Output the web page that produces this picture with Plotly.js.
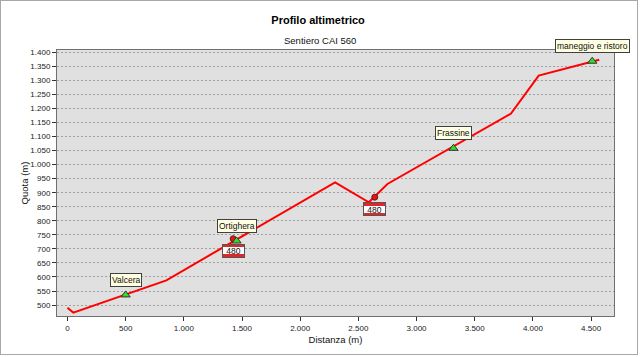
<!DOCTYPE html>
<html>
<head>
<meta charset="utf-8">
<script src="https://cdn.plot.ly/plotly-3.0.1.min.js"></script>
<style>
  html, body { margin: 0; padding: 0; background: #fff; }
  #wrap { position: relative; width: 640px; height: 357px; }
  #chart { position: absolute; left: 0; top: 0; width: 640px; height: 357px; }
  #frame { position: absolute; left: 0; top: 0; width: 636px; height: 353px; border: 1px solid #a8a8a8; pointer-events: none; }
</style>
</head>
<body>
<div id="wrap"><div id="chart"></div><div id="frame"></div></div>
<script>
// Profile (distance in m, elevation in m)
const distance = [0, 50, 850, 2300, 2590, 2750, 3810, 4050, 4570];
const elevation = [490, 473, 588, 937, 866, 931, 1181, 1317, 1373];

// Waypoints
const waypointNames = ['Valcera', 'Ortighera', 'Frassine', 'maneggio e ristoro'];
const waypointDist = [500, 1453, 3317, 4510];
const waypointElev = [536, 728, 1058, 1368];

// Trail junction signs
const signDist = [1424, 2641];
const signElev = [736, 884];
const signText = ['480', '480'];

const FONT = 'Liberation Sans, Arial, sans-serif';

const traces = [
  { x: distance, y: elevation, type: 'scatter', mode: 'lines',
    line: { color: '#ff0000', width: 2 }, hoverinfo: 'skip' },
  { x: signDist, y: signElev, type: 'scatter', mode: 'markers',
    marker: { symbol: 'circle', size: 6, color: '#ee1111', line: { color: '#552222', width: 1 } } },
  { x: waypointDist, y: waypointElev, type: 'scatter', mode: 'markers',
    marker: { symbol: 'triangle-up', size: 8, color: '#33dd22', line: { color: '#333333', width: 1 } } }
];

const annotations = [];
waypointNames.forEach((name, i) => {
  annotations.push({
    x: waypointDist[i], y: waypointElev[i], xref: 'x', yref: 'y',
    text: name, showarrow: false, yshift: 15,
    bgcolor: '#ffffe1', bordercolor: '#404040', borderwidth: 1, borderpad: 1,
    font: { family: FONT, size: 8.5, color: '#111' }
  });
});
signText.forEach((t, i) => {
  annotations.push({
    x: signDist[i], y: signElev[i], xref: 'x', yref: 'y',
    text: ' ', showarrow: false, yshift: -12, width: 21, height: 12,
    bgcolor: '#e3262b', bordercolor: '#555555', borderwidth: 1, borderpad: 0,
    font: { family: FONT, size: 8 }
  });
  annotations.push({
    x: signDist[i], y: signElev[i], xref: 'x', yref: 'y',
    text: t, showarrow: false, yshift: -12, width: 21, height: 7,
    bgcolor: '#ffffff', borderwidth: 0, borderpad: 0,
    font: { family: FONT, size: 8.5, color: '#111' }
  });
});
annotations.push({
  xref: 'paper', yref: 'paper', x: 0.472, y: 1.034, xanchor: 'center', yanchor: 'middle',
  text: 'Sentiero CAI 560', showarrow: false,
  font: { family: FONT, size: 9.5, color: '#111' }
});

const layout = {
  width: 640, height: 357,
  margin: { l: 57, r: 26, t: 50, b: 40.5, pad: 0 },
  paper_bgcolor: '#ffffff',
  plot_bgcolor: '#e0e0e0',
  separators: ',.',
  showlegend: false,
  font: { family: FONT, size: 8, color: '#222' },
  title: {
    text: '<b>Profilo altimetrico</b>',
    xref: 'container', x: 0.497, yref: 'container', y: 1 - 20 / 357, yanchor: 'middle',
    font: { family: FONT, size: 11, color: '#000' }
  },
  xaxis: {
    range: [-90, 4697], tick0: 0, dtick: 500, tickformat: ',d',
    showgrid: false, zeroline: false,
    showline: true, linecolor: '#707070', linewidth: 1, mirror: true,
    ticks: 'outside', ticklen: 4, tickcolor: '#333',
    tickfont: { family: FONT, size: 8, color: '#222' },
    title: { text: 'Distanza (m)', standoff: 4, font: { family: FONT, size: 9.5, color: '#111' } }
  },
  yaxis: {
    range: [461, 1408], tick0: 0, dtick: 50, tickformat: ',d',
    showgrid: true, gridcolor: '#a0a0a0', griddash: '2px,2px', gridwidth: 1,
    zeroline: false,
    showline: true, linecolor: '#707070', linewidth: 1, mirror: true,
    ticks: 'outside', ticklen: 4, tickcolor: '#333',
    tickfont: { family: FONT, size: 8, color: '#222' },
    title: { text: 'Quota (m)', standoff: 0, font: { family: FONT, size: 9.5, color: '#111' } }
  },
  annotations: annotations
};

Plotly.newPlot('chart', traces, layout, { staticPlot: true, displayModeBar: false });
</script>
</body>
</html>
